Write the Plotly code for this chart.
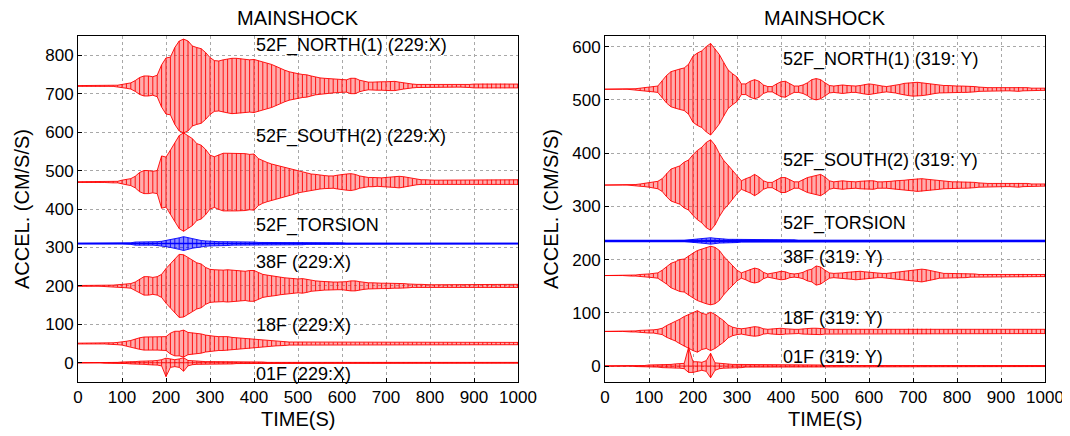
import plotly.graph_objects as go

# ---------------- data ----------------
T = list(range(0, 1001, 10))   # time grid (s), shared by all traces

# ----- left panel (229:X) -----
L_base = {"N": 720, "S": 470, "T": 310, "38": 200, "18": 50, "01": 0}
L_N = [1,1,1,1,1,1,1,1,1,2,
       4,6,8,14,22,26,26,24,28,55,
       73,75,100,117,122,117,104,100,97,87,
       74,66,65,68,70,72,72,71,69,68,
       69,66,62,59,56,51,45,41,37,34,
       32,30,29,26,23,21,20,19,18,17,
       16,16,20,20,15,12,10,10,11,11,
       11,12,12,10,8,6,5,4,4,3,
       3,3,3,3,3,3,3,3,3,4,
       5,5,6,6,6,6,6,6,5,5,
       5]
L_S = [1,1,1,1,1,1,1,1,2,2,
       5,7,9,15,25,30,30,28,30,68,
       65,83,102,121,128,120,113,100,96,85,
       70,66,71,75,75,75,75,75,74,72,
       73,61,55,51,47,44,41,38,35,32,
       28,25,23,21,20,18,17,16,16,18,
       20,21,22,20,16,14,12,12,11,11,
       12,13,14,15,14,12,9,7,6,6,
       5,5,5,5,5,5,5,5,5,5,
       5,5,5,6,6,6,6,6,6,6,
       6]
L_T = [1,1,1,1,1,1,1,1,1,1,
       1,1,2,4,4,4,4,4,5,6,
       8,10,12,15,18,15,12,10,8,7,
       6,5,5,5,5,4,4,4,4,4,
       4,3,3,3,3,3,3,3,3,3,
       3,3,2,2,2,2,2,2,2,2,
       2,1,1,1,1,1,1,1,1,1,
       1,1,1,1,1,1,1,1,1,1,
       1,1,1,1,1,1,1,1,1,1,
       1,1,1,1,1,1,1,1,1,1,
       1]
L_38 = [1,1,1,1,1,1,1,2,2,3,
        4,5,6,10,18,24,24,22,24,30,
        45,57,70,82,81,73,67,60,57,48,
        43,42,41,41,42,41,40,39,38,40,
        40,35,30,28,26,25,23,21,20,19,
        18,19,17,14,13,12,11,11,10,10,
        10,11,13,13,11,9,8,8,7,7,
        7,7,6,6,6,5,4,4,4,3,
        3,3,3,3,3,3,3,3,3,3,
        3,4,4,4,4,4,4,4,4,4,
        4]
L_18 = [1,1,1,1,1,1,1,2,2,3,
        4,6,8,12,15,17,17,17,17,17,
        18,27,32,32,35,29,28,26,25,22,
        20,19,18,18,18,16,15,14,13,13,
        12,10,9,8,7,6,5,5,4,4,
        4,4,3,3,3,3,3,3,3,3,
        3,3,3,3,3,3,3,3,3,3,
        3,3,3,3,3,3,3,3,3,3,
        3,3,3,3,3,3,3,3,3,3,
        3,3,3,3,3,3,3,3,3,3,
        3]
L_01_up = [0,0,0,0,0,0,1,1,1,1,
           2,2,3,3,4,4,5,5,6,8,
           12,10,8,10,13,6,5,4,4,3,
           3,3,3,3,3,3,2,2,2,2,
           2,2,2,1,1,1,1,1,1,1,
           1,1,1,1,1,1,1,1,1,1,
           1,1,1,1,1,1,1,1,1,1,
           1,1,1,1,1,1,1,1,1,1,
           1,1,1,1,1,1,1,1,1,1,
           1,1,1,1,1,1,1,1,1,1,
           1]
L_01_dn = [0,0,0,0,0,0,1,1,1,1,
           2,2,3,3,4,4,5,6,6,8,
           36,12,10,12,22,8,5,4,4,3,
           3,3,3,3,3,3,2,2,2,2,
           2,2,2,1,1,1,1,1,1,1,
           1,1,1,1,1,1,1,1,1,1,
           1,1,1,1,1,1,1,1,1,1,
           1,1,1,1,1,1,1,1,1,1,
           1,1,1,1,1,1,1,1,1,1,
           1,1,1,1,1,1,1,1,1,1,
           1]

# ----- right panel (319: Y) -----
R_base = {"N": 520, "S": 340, "T": 235, "38": 170, "18": 65, "01": 0}
R_N = [0,0,0,0,0,0,0,1,2,3,
       4,5,6,16,26,33,36,38,40,47,
       62,68,72,80,86,76,65,50,36,29,
       23,10,10,15,18,15,8,5,5,10,
       14,15,10,6,6,8,12,18,20,18,
       12,7,6,7,8,7,6,6,7,9,
       10,9,7,6,5,6,7,9,11,12,
       13,13,12,11,10,8,7,7,7,6,
       6,6,6,6,5,4,3,3,3,3,
       3,3,3,3,4,3,3,2,2,2,
       2]
R_S = [0,0,0,0,0,0,0,1,2,3,
       4,5,7,12,22,30,33,36,43,47,
       57,65,71,80,85,75,59,46,37,27,
       16,8,12,15,20,15,8,5,5,10,
       14,14,10,6,6,10,14,16,18,20,
       15,8,6,7,8,7,6,6,7,8,
       8,8,6,6,6,7,8,8,9,10,
       11,12,12,11,10,9,8,7,7,6,
       6,6,6,6,5,4,3,3,3,3,
       3,3,3,3,4,3,3,2,2,2,
       2]
R_T = [0,0,0,0,0,0,0,0,0,0,
       1,1,1,1,1,1,1,1,1,2,
       3,3,4,5,6,5,4,4,3,3,
       3,2,2,2,2,2,2,2,2,2,
       2,2,2,2,1,1,1,1,1,1,
       1,1,1,1,1,1,1,1,1,1,
       1,1,1,1,1,1,1,1,1,1,
       1,1,1,1,1,1,1,1,1,1,
       1,1,1,1,1,1,1,1,1,1,
       1,1,1,1,1,1,1,1,1,1,
       1]
R_38 = [0,0,0,0,0,0,1,1,2,2,
        3,4,5,10,16,23,26,30,31,37,
        42,47,50,53,55,53,47,36,27,18,
        10,5,8,12,14,12,6,3,4,6,
        8,7,4,3,4,6,10,12,18,16,
        10,5,4,4,5,6,7,8,8,7,
        6,5,4,4,4,5,6,7,8,9,
        10,11,12,11,9,7,5,4,4,4,
        4,4,4,3,3,2,2,2,2,2,
        2,2,2,2,3,3,2,2,2,2,
        2]
R_18 = [0,0,0,0,0,0,1,1,2,2,
        3,3,4,6,11,15,18,23,28,32,
        36,39,34,32,36,32,26,20,12,8,
        6,5,6,8,9,8,5,4,5,6,
        6,5,4,4,4,5,5,6,6,6,
        5,4,4,4,4,4,4,4,4,4,
        4,4,4,4,4,4,4,4,4,5,
        5,5,5,5,5,4,4,4,4,4,
        4,4,4,4,4,4,4,4,4,4,
        4,4,4,4,4,4,4,4,4,4,
        4]
R_01_up = [0,0,0,0,0,0,0,1,1,1,
           2,2,2,3,3,3,4,4,5,35,
           8,8,7,10,24,6,5,4,4,3,
           3,3,2,2,2,2,2,2,2,2,
           2,2,2,2,2,2,2,2,2,2,
           1,1,1,1,1,1,1,1,1,1,
           1,1,1,1,1,1,1,1,1,1,
           1,1,1,1,1,1,1,1,1,1,
           1,1,1,1,1,1,1,1,1,1,
           1,1,1,1,1,1,1,1,1,1,
           1]
R_01_dn = [0,0,0,0,0,0,0,1,1,1,
           2,2,2,3,3,3,4,4,5,12,
           12,10,8,10,22,8,5,4,4,3,
           3,3,2,2,2,2,2,2,2,2,
           2,2,2,2,2,2,2,2,2,2,
           1,1,1,1,1,1,1,1,1,1,
           1,1,1,1,1,1,1,1,1,1,
           1,1,1,1,1,1,1,1,1,1,
           1,1,1,1,1,1,1,1,1,1,
           1,1,1,1,1,1,1,1,1,1,
           1]

L_labels = ["52F_NORTH(1) (229:X)", "52F_SOUTH(2) (229:X)", "52F_TORSION",
            "38F (229:X)", "18F (229:X)", "01F (229:X)"]
L_label_y = [825, 588, 357, 263, 99, -29]
R_labels = ["52F_NORTH(1) (319: Y)", "52F_SOUTH(2) (319: Y)", "52F_TORSION",
            "38F (319: Y)", "18F (319: Y)", "01F (319: Y)"]
R_label_y = [575, 387, 267, 205, 90, 17]
LABEL_X = 400

# ---------------- figure ----------------
FONT = "Liberation Sans, Arial, Helvetica, sans-serif"
RED, RED_FILL = "rgb(255,0,0)", "rgba(255,70,70,0.45)"
BLUE, BLUE_FILL = "rgb(0,0,255)", "rgba(0,0,255,0.45)"

# the page body adds an 8 px offset; the figure is sized to fit the window
W, H, OFF = 1062, 428, 8

fig = go.Figure()


def add_trace(base, up, dn, xa, ya, color, fill, base_w=None):
    top = [base + u for u in up]
    bot = [base - d for d in dn]
    fig.add_trace(go.Scatter(x=T + T[::-1], y=top + bot[::-1], fill="toself",
                             fillcolor=fill, mode="lines",
                             line=dict(color=color, width=0.9),
                             xaxis=xa, yaxis=ya, hoverinfo="skip", showlegend=False))
    xs, ys = [], []
    for t, a, b in zip(T, top, bot):
        xs += [t, t, None]
        ys += [a, b, None]
    fig.add_trace(go.Scatter(x=xs, y=ys, mode="lines", line=dict(color=color, width=0.9),
                             xaxis=xa, yaxis=ya, hoverinfo="skip", showlegend=False))
    if base_w:
        fig.add_trace(go.Scatter(x=[T[0], T[-1]], y=[base, base], mode="lines",
                                 line=dict(color=color, width=base_w),
                                 xaxis=xa, yaxis=ya, hoverinfo="skip", showlegend=False))


left = [("N", L_N, L_N), ("S", L_S, L_S), ("T", L_T, L_T),
        ("38", L_38, L_38), ("18", L_18, L_18), ("01", L_01_up, L_01_dn)]
right = [("N", R_N, R_N), ("S", R_S, R_S), ("T", R_T, R_T),
         ("38", R_38, R_38), ("18", R_18, R_18), ("01", R_01_up, R_01_dn)]

for key, up, dn in left:
    if key == "T":
        add_trace(L_base[key], up, dn, "x", "y", BLUE, BLUE_FILL, 1.5)
    else:
        add_trace(L_base[key], up, dn, "x", "y", RED, RED_FILL, 0.8 if key == "01" else None)
for key, up, dn in right:
    if key == "T":
        add_trace(R_base[key], up, dn, "x2", "y2", BLUE, BLUE_FILL, 2.5)
    else:
        add_trace(R_base[key], up, dn, "x2", "y2", RED, RED_FILL, 0.8 if key == "01" else None)

axis_common = dict(showgrid=True, gridcolor="#a8a8a8", griddash="dot", gridwidth=1,
                   showline=True, linecolor="black", linewidth=1, mirror=True,
                   ticks="inside", ticklen=4, tickcolor="black", zeroline=False,
                   automargin=False,
                   tickfont=dict(size=17, color="black", family=FONT))

LD = [(78 - OFF) / W, (518 - OFF) / W]
RD = [(605 - OFF) / W, (1045 - OFF) / W]
PLOT_TOP, PLOT_BOT = 36 - OFF, 382 - OFF

fig.update_layout(
    width=W, height=H,
    margin=dict(l=0, r=0, t=PLOT_TOP, b=H - PLOT_BOT),
    paper_bgcolor="white", plot_bgcolor="white",
    font=dict(family=FONT, color="black"),
    xaxis=dict(domain=LD, range=[0, 1000], dtick=100, anchor="y", **axis_common),
    yaxis=dict(range=[-50, 850], dtick=100, anchor="x", **axis_common),
    xaxis2=dict(domain=RD, range=[0, 1000], dtick=100, anchor="y2", **axis_common),
    yaxis2=dict(range=[-30, 620], dtick=100, anchor="x2", **axis_common),
)

ann = []
for txt, yv in zip(L_labels, L_label_y):
    ann.append(dict(x=LABEL_X, y=yv, xref="x", yref="y", text=txt, showarrow=False,
                    xanchor="left", yanchor="middle", font=dict(size=18, color="black")))
for txt, yv in zip(R_labels, R_label_y):
    ann.append(dict(x=LABEL_X, y=yv, xref="x2", yref="y2", text=txt, showarrow=False,
                    xanchor="left", yanchor="middle", font=dict(size=18, color="black")))
ph = PLOT_BOT - PLOT_TOP
for dom in (LD, RD):
    cx = (dom[0] + dom[1]) / 2
    ann.append(dict(x=cx, y=1.0, xref="paper", yref="paper", yshift=18, text="MAINSHOCK",
                    showarrow=False, xanchor="center", yanchor="middle",
                    font=dict(size=20, color="black")))
    ann.append(dict(x=cx, y=-(419 - 382) / ph, xref="paper", yref="paper", text="TIME(S)",
                    showarrow=False, xanchor="center", yanchor="middle",
                    font=dict(size=20, color="black")))
for xc in ((22 - OFF) / W, (551 - OFF) / W):
    ann.append(dict(x=xc, y=0.5, xref="paper", yref="paper", text="ACCEL. (CM/S/S)",
                    textangle=-90, showarrow=False, xanchor="center", yanchor="middle",
                    font=dict(size=20, color="black")))
fig.update_layout(annotations=ann)

fig.write_html("out.html")
